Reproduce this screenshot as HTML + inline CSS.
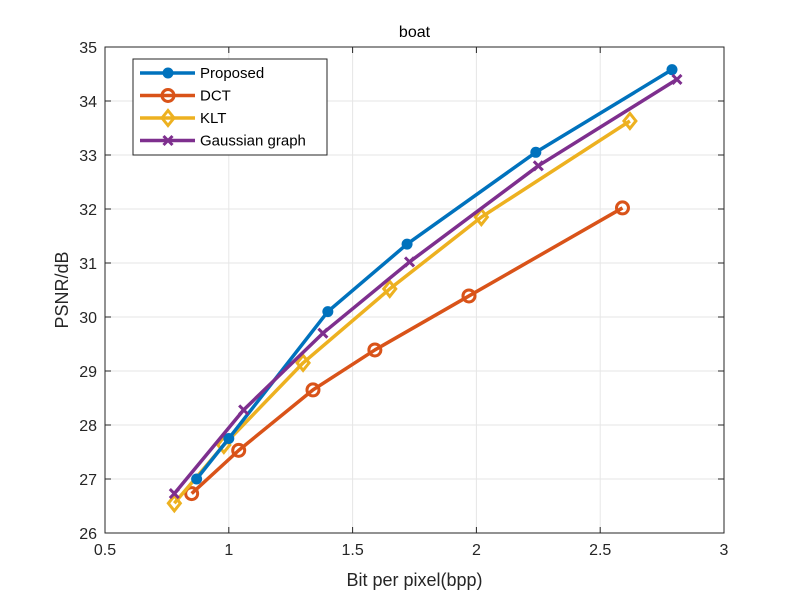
<!DOCTYPE html>
<html><head><meta charset="utf-8"><style>body{margin:0;background:#fff}svg{display:block;font-family:"Liberation Sans",Arial,sans-serif}</style></head>
<body>
<svg id="chart" width="800" height="599" viewBox="0 0 800 599"></svg>
<script>
const xTicks=[0.5,1,1.5,2,2.5,3];
const xTickLabels=["0.5","1","1.5","2","2.5","3"];
const yTicks=[26,27,28,29,30,31,32,33,34,35];
const seriesNames=["Proposed","DCT","KLT","Gaussian graph"];
const proposedX=[0.87,1.0,1.40,1.72,2.24,2.79];
const proposedY=[27.0,27.75,30.1,31.35,33.05,34.58];
const dctX=[0.85,1.04,1.34,1.59,1.97,2.59];
const dctY=[26.73,27.53,28.65,29.39,30.39,32.02];
const kltX=[0.78,0.98,1.30,1.65,2.02,2.62];
const kltY=[26.55,27.63,29.15,30.52,31.85,33.63];
const gaussX=[0.78,1.06,1.38,1.73,2.25,2.81];
const gaussY=[26.73,28.28,29.7,31.02,32.8,34.4];
const colors=["#0072BD","#D95319","#EDB120","#7E2F8E"];
const markers=["dot","circle","diamond","x"];
const L=105,R=724,T=47,B=533;
const sx=v=>L+(v-0.5)/2.5*(R-L);
const sy=v=>B-(v-26)/9*(B-T);
const svg=document.getElementById('chart');
const NS='http://www.w3.org/2000/svg';
function mk(tag,attrs,parent){const e=document.createElementNS(NS,tag);for(const k in attrs)e.setAttribute(k,attrs[k]);(parent||svg).appendChild(e);return e;}
mk('rect',{x:L,y:T,width:R-L,height:B-T,fill:'#fff'});
xTicks.forEach((t,i)=>{const x=sx(t);
 const g=mk('line',{x1:x,x2:x,y1:T,y2:B,stroke:'#e6e6e6'});
 mk('line',{x1:x,x2:x,y1:B,y2:B-6,stroke:'#262626'});mk('line',{x1:x,x2:x,y1:T,y2:T+6,stroke:'#262626'});
 const tx=mk('text',{x:x,y:B+22,'text-anchor':'middle','font-size':16,fill:'#262626'});tx.textContent=xTickLabels[i];
 });
yTicks.forEach(t=>{const y=sy(t);
 const g=mk('line',{x1:L,x2:R,y1:y,y2:y,stroke:'#e6e6e6'});
 mk('line',{x1:L,x2:L+6,y1:y,y2:y,stroke:'#262626'});mk('line',{x1:R,x2:R-6,y1:y,y2:y,stroke:'#262626'});
 const tx=mk('text',{x:L-8,y:y+6,'text-anchor':'end','font-size':16,fill:'#262626'});tx.textContent=t;
 });
const box=mk('rect',{x:L,y:T,width:R-L,height:B-T,fill:'none',stroke:'#262626'});

function marker(type,x,y,c,parent){
 if(type==='dot')mk('circle',{cx:x,cy:y,r:5.5,fill:c},parent);
 else if(type==='circle')mk('circle',{cx:x,cy:y,r:6,fill:'none',stroke:c,'stroke-width':3},parent);
 else if(type==='diamond')mk('polygon',{points:`${x},${y-7.5} ${x+6},${y} ${x},${y+7.5} ${x-6},${y}`,fill:'none',stroke:c,'stroke-width':3},parent);
 else {mk('path',{d:`M${x-4.5},${y-4.5}L${x+4.5},${y+4.5}M${x-4.5},${y+4.5}L${x+4.5},${y-4.5}`,stroke:c,'stroke-width':3},parent);}
}
const allX=[proposedX,dctX,kltX,gaussX],allY=[proposedY,dctY,kltY,gaussY];
const order=[1,2,0,3];
order.forEach(i=>{
 const g=mk('g',{});
 mk('polyline',{points:allX[i].map((v,j)=>sx(v)+','+sy(allY[i][j])).join(' '),fill:'none',stroke:colors[i],'stroke-width':3.5,'stroke-linejoin':'round'},g);
 allX[i].forEach((v,j)=>marker(markers[i],sx(v),sy(allY[i][j]),colors[i],g));
});
const lg=mk('g',{});
mk('rect',{x:133,y:59,width:194,height:96,fill:'#fff',stroke:'#262626'},lg);
seriesNames.forEach((n,i)=>{const y=73+i*22.5;
 const e=mk('g',{},lg);
 mk('line',{x1:140,x2:195,y1:y,y2:y,stroke:colors[i],'stroke-width':3.5},e);
 marker(markers[i],168,y,colors[i],e);
 const t=mk('text',{x:200,y:y+5,'font-size':15,fill:'#000'},e);t.textContent=n;});
const title=mk('text',{x:(L+R)/2,y:37,'text-anchor':'middle','font-size':16,fill:'#000'});title.textContent='boat';

const xl=mk('text',{x:(L+R)/2,y:586,'text-anchor':'middle','font-size':18,fill:'#262626'});xl.textContent='Bit per pixel(bpp)';

const yl=mk('text',{x:0,y:0,'text-anchor':'middle','font-size':18,fill:'#262626',transform:`translate(68,${(T+B)/2}) rotate(-90)`});yl.textContent='PSNR/dB';

</script>
</body></html>
